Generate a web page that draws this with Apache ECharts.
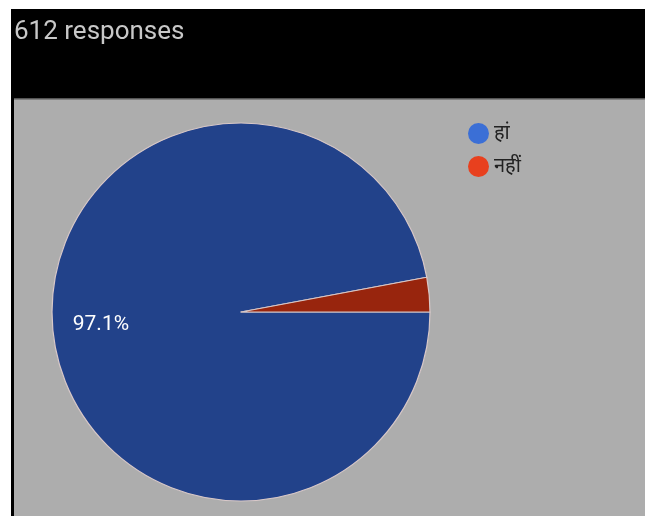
<!DOCTYPE html>
<html>
<head>
<meta charset="utf-8">
<style>
  html, body { margin: 0; padding: 0; background: #fff; }
  #app { width: 645px; height: 516px; }
</style>
<script src="https://cdn.jsdelivr.net/npm/echarts@6/dist/echarts.min.js"></script>
</head>
<body>
<div id="app"></div>
<script>
const answers = ['हां', 'नहीं']
const counts = [594, 18]
const sliceColors = ['#22428a', '#98250d']
const legendColors = ['#3b6fd6', '#e8401e']

const chart = echarts.init(document.getElementById('app'))

chart.setOption({
  animation: false,
  backgroundColor: '#fff',
  graphic: [
    // black header band
    { type: 'rect', shape: { x: 11, y: 9, width: 634, height: 90 }, style: { fill: '#000' }, z: -10 },
    // left border
    { type: 'rect', shape: { x: 11, y: 99, width: 3, height: 417 }, style: { fill: '#000' }, z: -10 },
    // plot area
    { type: 'rect', shape: { x: 14, y: 99, width: 631, height: 417 }, style: { fill: '#adadad' }, z: -10 },
    { type: 'rect', shape: { x: 14, y: 98, width: 631, height: 1.5 }, style: { fill: '#555' }, z: -9 }
  ],
  title: {
    text: '612 responses',
    left: 9,
    top: 14,
    textStyle: {
      color: '#c8c8c8',
      fontSize: 26,
      fontWeight: 'normal',
      fontFamily: 'Roboto'
    }
  },
  legend: {
    orient: 'vertical',
    left: 463,
    top: 118,
    icon: 'circle',
    itemWidth: 21,
    itemHeight: 21,
    itemGap: 12,
    selectedMode: false,
    itemStyle: { borderWidth: 0 },
    textStyle: { color: '#222', fontSize: 20, fontFamily: 'Noto Sans, sans-serif' },
    data: answers.map((name, i) => ({ name, itemStyle: { color: legendColors[i], borderWidth: 0 } }))
  },
  series: [
    {
      type: 'pie',
      center: [241, 312],
      radius: 189,
      startAngle: 0,
      clockwise: true,
      percentPrecision: 1,
      itemStyle: { borderColor: '#d8c8c8', borderWidth: 1.2 },
      label: {
        position: 'inside',
        formatter: '{d}%',
        color: '#fff',
        fontSize: 21,
        fontFamily: 'Roboto',
        offset: [-43, 4]
      },
      labelLine: { show: false },
      emphasis: { disabled: true },
      data: answers.map((name, i) => ({
        name,
        value: counts[i],
        itemStyle: { color: sliceColors[i] },
        label: { show: i === 0 }
      }))
    }
  ]
})
</script>
</body>
</html>
